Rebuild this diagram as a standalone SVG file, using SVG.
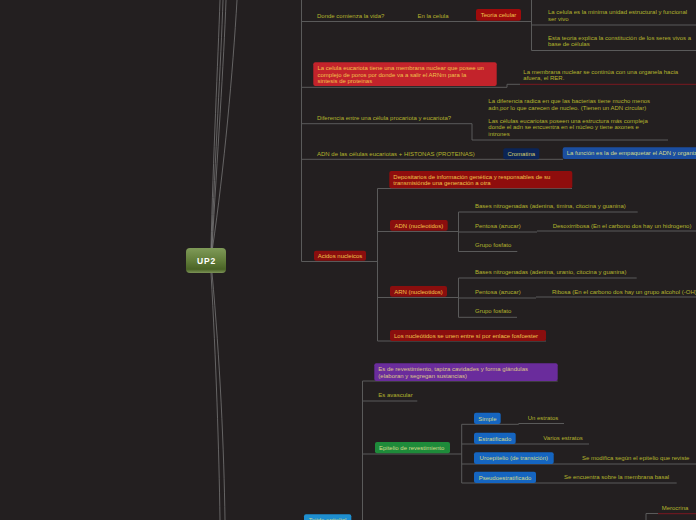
<svg xmlns="http://www.w3.org/2000/svg" width="696" height="520" viewBox="0 0 696 520">
<defs>
<linearGradient id="rootg" x1="0" y1="0" x2="0" y2="1">
<stop offset="0" stop-color="#7f9a58"/>
<stop offset="0.5" stop-color="#627d3a"/>
<stop offset="0.85" stop-color="#4a6326"/>
<stop offset="1" stop-color="#7d9457"/>
</linearGradient>
</defs>
<style>
text{font-family:"Liberation Sans",Arial,sans-serif;font-size:6px}
.t{fill:#b3b32d}
.rt{fill:#f0c14b}
.lt{fill:#d2d98a}
.c{fill:none;stroke:#5a5a5a;stroke-width:1}
.cu{fill:none;stroke:#8a8a8a;stroke-width:0.8;opacity:0.8}
.dr{fill:none;stroke:#7a1820;stroke-width:1}
.mid{text-anchor:middle}
</style>
<rect width="696" height="520" fill="#231f20"/>
<g id="connectors">
<path class="cu" d="M211,248 C213,160 218,60 220,0"/>
<path class="cu" d="M211.5,248 C215,160 221,60 223,0"/>
<path class="cu" d="M212,248 C217,160 224,60 226,0"/>
<path class="cu" d="M212.5,248 C224,170 233,70 237,0"/>
<path class="cu" d="M211,273 C216,360 219,450 220,520"/>
<path class="cu" d="M212,273 C220,360 224,450 225,520"/>
<path class="c" d="M301.5,0 V261.5"/>
<path class="c" d="M301.5,21.5 H531.5"/>
<path class="c" d="M531.5,0 V50.5 M531.5,25 H696 M531.5,50.5 H696"/>
<path class="c" d="M301.5,87.3 H507 V84.3 H520"/>
<path class="dr" d="M520,84.3 H696"/>
<path class="c" d="M301.5,123.7 H472 V140 H668"/>
<path class="c" d="M301.5,159.3 H563"/>
<path class="c" d="M301.5,261.5 H377.5 M377.5,188.5 V341 M377.5,188.5 H572"/>
<path class="c" d="M377.5,231.5 H458.5 M458.5,212 V251.5 M458.5,212 H637.7 M458.5,232 H537 M537,231 H696 M458.5,251.5 H517.3"/>
<path class="c" d="M377.5,297.5 H458.5 M458.5,278 V317.3 M458.5,278 H636.7 M458.5,298 H536 M536,297 H696 M458.5,317.3 H517"/>
<path class="c" d="M377.5,341 H546"/>
<path class="c" d="M362.5,381 V520 M362.5,381 H557.7 M362.5,401 H417.3 M362.5,454 H461.7"/>
<path class="c" d="M461.7,424.3 V483 M461.7,424.3 H518.7 V423.5 H564 M461.7,444 H589 M461.7,464 H696 M461.7,483 H676.7"/>
<path class="c" d="M646,520 V513.5 H658"/>
<path class="dr" d="M658,513.7 H696"/>
</g>
<g id="root">
<rect x="186" y="248" width="40" height="25" rx="4" fill="url(#rootg)"/>
<text x="206.5" y="264" class="mid" style="font-size:8.5px;font-weight:bold;letter-spacing:0.8px" fill="#ffffff">UP2</text>
</g>
<g id="n-donde"><text x="317" y="18.3" class="t">Donde comienza la vida?</text></g>
<g id="n-enlacelula"><text x="417.5" y="18.3" class="t">En la celula</text></g>
<g id="n-teoria">
<rect x="476" y="9" width="45" height="11.7" rx="2" fill="#9e0b0b"/>
<text x="498.5" y="17" class="rt mid">Teoria celular</text>
</g>
<g id="n-minima">
<text x="548" y="13.7" class="t">La celula es la minima unidad estructural y funcional</text>
<text x="548" y="21" class="t">ser vivo</text>
</g>
<g id="n-explica">
<text x="548" y="39.7" class="t">Esta teoria explica la constitución de los seres vivos a</text>
<text x="548" y="46.3" class="t">base de células</text>
</g>
<g id="n-eucariota">
<rect x="313.3" y="62.3" width="183.4" height="23.7" rx="2" fill="#c3232b"/>
<text x="317.5" y="70.3" class="rt">La celula eucariota tiene una membrana nuclear que posee un</text>
<text x="317.5" y="77" class="rt">complejo de poros por donde va a salir el ARNm para la</text>
<text x="317.5" y="83.3" class="rt">sintesis de proteinas</text>
</g>
<g id="n-membrana">
<text x="523.3" y="74.3" class="t">La membrana nuclear se continúa con una organela hacia</text>
<text x="523.3" y="80.3" class="t">afuera, el RER.</text>
</g>
<g id="n-diferencia"><text x="317" y="119.7" class="t">Diferencia entre una célula procariota y eucariota?</text></g>
<g id="n-radica">
<text x="488.3" y="103" class="t">La diferencia radica en que las bacterias tiene mucho menos</text>
<text x="488.3" y="110.3" class="t">adn,por lo que carecen de nucleo. (Tienen un ADN circular)</text>
</g>
<g id="n-compleja">
<text x="488.3" y="123" class="t">Las células eucariotas poseen una estructura más compleja</text>
<text x="488.3" y="129.3" class="t">donde el adn se encuentra en el núcleo y tiene axones e</text>
<text x="488.3" y="136" class="t">intrones</text>
</g>
<g id="n-histonas"><text x="317" y="155.7" class="t">ADN de las células eucariotas + HISTONAS (PROTEINAS)</text></g>
<g id="n-cromatina">
<rect x="503.3" y="148.3" width="36" height="11" rx="2" fill="#0b2456"/>
<text x="521.3" y="155.7" class="mid" fill="#d8d070">Cromatina</text>
</g>
<g id="n-funcion">
<rect x="562.7" y="147.3" width="140" height="11.7" rx="2" fill="#1b4ea0"/>
<text x="566.7" y="155.3" class="lt">La función es la de empaquetar el ADN y organizarlo</text>
</g>
<g id="n-depositarios">
<rect x="389.3" y="171" width="183" height="17.3" rx="2" fill="#8f0d0d"/>
<text x="393.3" y="179.3" class="rt">Depositarios de información genética y responsables de su</text>
<text x="393.3" y="185.3" class="rt">transmisiónde una generación a otra</text>
</g>
<g id="n-acidos">
<rect x="314" y="250.7" width="52" height="10" rx="2" fill="#8a0e0e"/>
<text x="340" y="258" class="rt mid">Acidos nucleicos</text>
</g>
<g id="n-adn">
<rect x="390" y="220" width="57.7" height="10.7" rx="2" fill="#8a0e0e"/>
<text x="418.8" y="227.5" class="rt mid">ADN (nucleotidos)</text>
</g>
<g id="n-adn-bases"><text x="475" y="208" class="t">Bases nitrogenadas (adenina, timina, citocina y guanina)</text></g>
<g id="n-adn-pentosa"><text x="475" y="228" class="t">Pentosa (azucar)</text></g>
<g id="n-desoxi"><text x="552.7" y="228" class="t">Desoxirribosa (En el carbono dos hay un hidrogeno)</text></g>
<g id="n-adn-grupo"><text x="475" y="247" class="t">Grupo fosfato</text></g>
<g id="n-arn">
<rect x="390" y="286" width="57" height="10.7" rx="2" fill="#8a0e0e"/>
<text x="418.5" y="293.5" class="rt mid">ARN (nucleotidos)</text>
</g>
<g id="n-arn-bases"><text x="475" y="274" class="t">Bases nitrogenadas (adenina, uranio, citocina y guanina)</text></g>
<g id="n-arn-pentosa"><text x="475" y="294" class="t">Pentosa (azucar)</text></g>
<g id="n-ribosa"><text x="552" y="294" class="t">Ribosa (En el carbono dos hay un grupo alcohol (-OH)</text></g>
<g id="n-arn-grupo"><text x="475" y="313" class="t">Grupo fosfato</text></g>
<g id="n-enlace">
<rect x="390" y="330" width="156" height="11" rx="2" fill="#8a0e0e"/>
<text x="394" y="337.5" class="rt">Los nucleótidos se unen entre sí por enlace fosfoester</text>
</g>
<g id="n-revestimiento">
<rect x="374.3" y="363.3" width="183.4" height="17.7" rx="2" fill="#6a2c9c"/>
<text x="378.3" y="371.3" fill="#dcc58a">Es de revestimiento, tapiza cavidades y forma glándulas</text>
<text x="378.3" y="378" fill="#dcc58a">(elaboran y segregan sustancias)</text>
</g>
<g id="n-avascular"><text x="378.3" y="397" class="t">Es avascular</text></g>
<g id="n-epitelio-rev">
<rect x="375" y="442" width="75" height="11.3" rx="2" fill="#1e8b3a"/>
<text x="379" y="449.7" class="lt">Epitelio de revestimiento</text>
</g>
<g id="n-simple">
<rect x="474" y="412.7" width="26.7" height="11.3" rx="2" fill="#1565c0"/>
<text x="487.3" y="420.5" class="lt mid">Simple</text>
</g>
<g id="n-un"><text x="527.7" y="420.3" class="t">Un estratos</text></g>
<g id="n-estratificado">
<rect x="474" y="432.7" width="41.7" height="11.3" rx="2" fill="#1565c0"/>
<text x="494.8" y="440.5" class="lt mid">Estratificado</text>
</g>
<g id="n-varios"><text x="543.3" y="440.3" class="t">Varios estratos</text></g>
<g id="n-uroepitelio">
<rect x="474" y="452.3" width="79.7" height="11.7" rx="2" fill="#1565c0"/>
<text x="513.8" y="460.3" class="lt mid">Uroepitelio (de transición)</text>
</g>
<g id="n-modifica"><text x="582" y="459.7" class="t">Se modifica según el epitelio que reviste</text></g>
<g id="n-pseudo">
<rect x="474" y="471.7" width="62" height="11.3" rx="2" fill="#1565c0"/>
<text x="505" y="479.5" class="lt mid">Pseudoestratificado</text>
</g>
<g id="n-basal"><text x="564" y="478.7" class="t">Se encuentra sobre la membrana basal</text></g>
<g id="n-merocrina"><text x="661.7" y="510" class="t">Merocrina</text></g>
<g id="n-tejido">
<rect x="304" y="514.3" width="47.3" height="11" rx="2" fill="#1e8fd0"/>
<text x="327.6" y="522.3" class="lt mid">Tejido epitelial</text>
</g>
</svg>
